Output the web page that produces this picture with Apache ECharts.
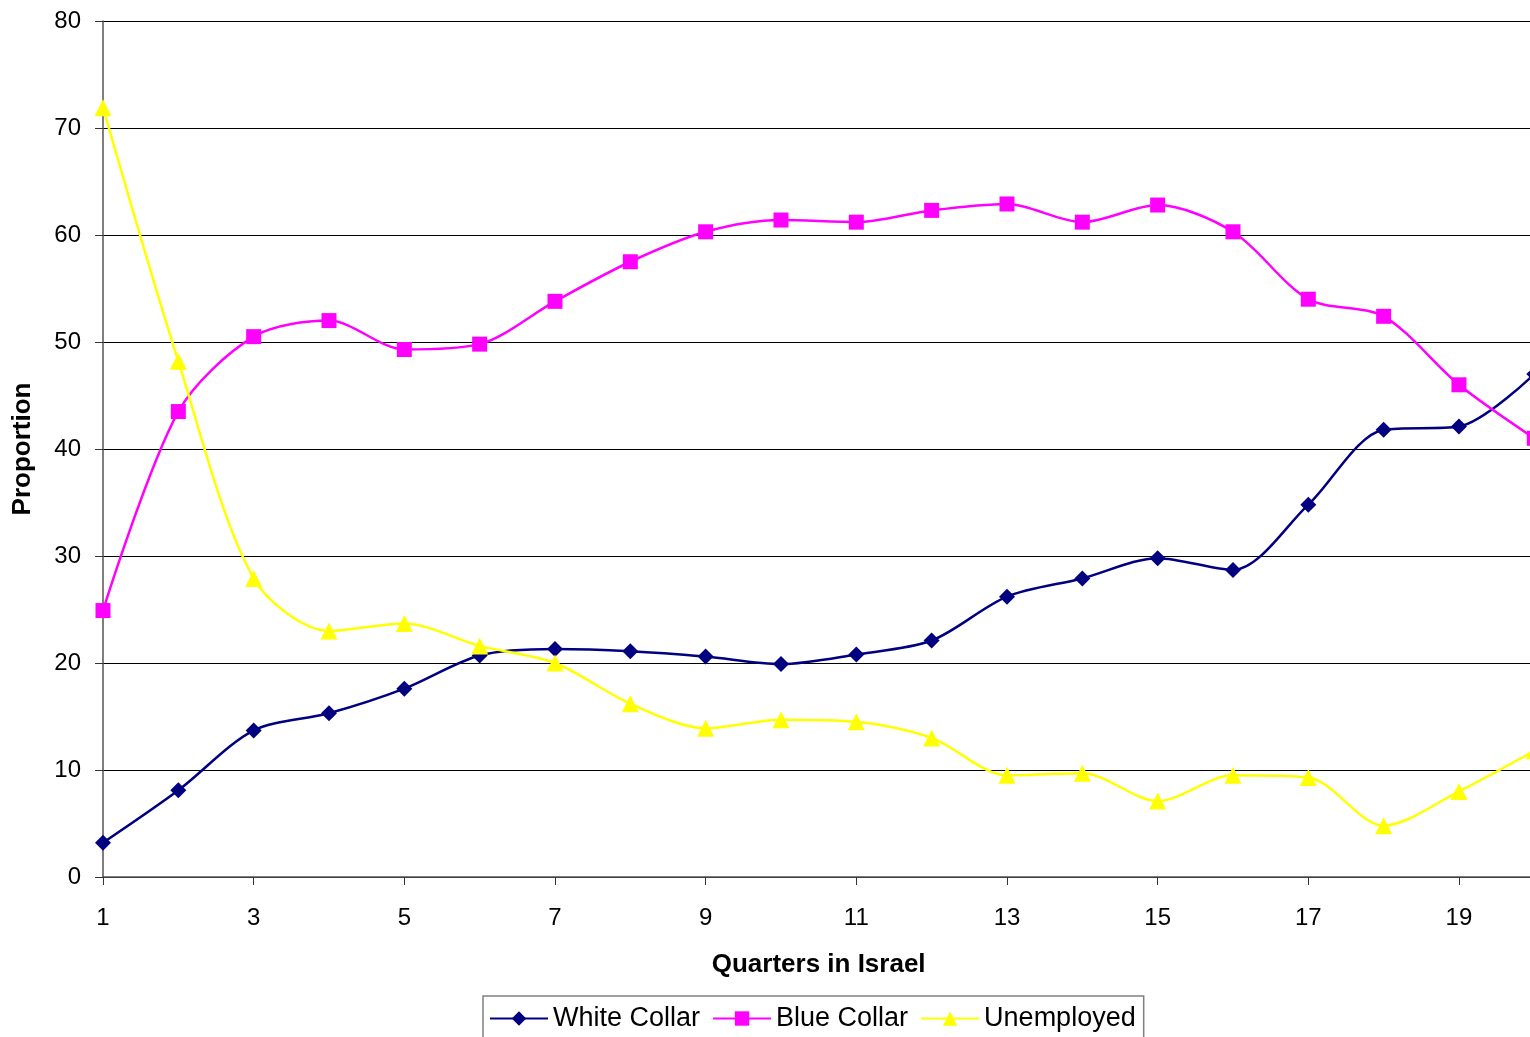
<!DOCTYPE html>
<html>
<head>
<meta charset="utf-8">
<style>
  html, body { margin: 0; padding: 0; background: #fff; }
  #chart { width: 1530px; height: 1037px; }
</style>
<script src="https://cdn.jsdelivr.net/npm/echarts@6/dist/echarts.min.js"></script>
</head>
<body>
<div id="chart"></div>
<script>
// Quarters since arrival
const quarters = ['1','2','3','4','5','6','7','8','9','10','11','12','13','14','15','16','17','18','19','20'];

// Occupational status shares (%)
const whiteCollar = [3.2, 8.1, 13.7, 15.3, 17.6, 20.7, 21.3, 21.1, 20.6, 19.9, 20.8, 22.1, 26.2, 27.9, 29.8, 28.7, 34.8, 41.8, 42.1, 47.0];
const blueCollar  = [24.9, 43.5, 50.5, 52.0, 49.3, 49.8, 53.8, 57.5, 60.3, 61.4, 61.2, 62.3, 62.9, 61.2, 62.8, 60.3, 54.0, 52.4, 46.0, 41.0];
const unemployed  = [71.9, 48.2, 27.9, 23.0, 23.7, 21.6, 20.0, 16.2, 13.9, 14.7, 14.5, 13.0, 9.5, 9.7, 7.1, 9.5, 9.3, 4.8, 8.0, 11.8];

const seriesNames = ['White Collar', 'Blue Collar', 'Unemployed'];

const FONT = '"Liberation Sans", Arial, sans-serif';

const chart = echarts.init(document.getElementById('chart'), null, { renderer: 'canvas' });

function lineSeries(name, data, color, symbol, size) {
  return {
    name: name,
    type: 'line',
    data: data,
    smooth: 0.3,
    symbol: symbol,
    symbolSize: size,
    showAllSymbol: true,
    lineStyle: { color: color, width: 2.5 },
    itemStyle: { color: color },
    emphasis: { disabled: true },
    animation: false
  };
}

chart.setOption({
  animation: false,
  backgroundColor: '#ffffff',
  grid: {
    left: 103, top: 21, width: 1431.3, height: 856,
    containLabel: false,
    outerBoundsMode: 'none'
  },
  legend: {
    left: 483,
    top: 996,
    data: seriesNames,
    itemWidth: 58,
    itemHeight: 18,
    itemGap: 12,
    padding: [9, 8, 12, 6],
    borderColor: '#808080',
    borderWidth: 1.5,
    textStyle: { fontFamily: FONT, fontSize: 27, color: '#000' }
  },
  xAxis: {
    type: 'category',
    data: quarters,
    boundaryGap: false,
    name: 'Quarters in Israel',
    nameLocation: 'middle',
    nameGap: 75,
    nameTextStyle: { fontFamily: FONT, fontSize: 26, fontWeight: 'bold', color: '#000' },
    axisLine: { lineStyle: { color: '#555', width: 1.5 } },
    axisTick: { show: true, interval: 1, length: 8, inside: false, lineStyle: { color: '#333' } },
    axisLabel: { interval: 1, margin: 29, fontFamily: FONT, fontSize: 24, color: '#000' },
    splitLine: { show: false }
  },
  yAxis: {
    type: 'value',
    min: 0,
    max: 80,
    interval: 10,
    name: 'Proportion',
    nameLocation: 'middle',
    nameGap: 67,
    nameRotate: 90,
    nameTextStyle: { fontFamily: FONT, fontSize: 26, fontWeight: 'bold', color: '#000' },
    axisLine: { show: true, lineStyle: { color: '#555', width: 1.5 } },
    axisTick: { show: true, length: 8, lineStyle: { color: '#333' } },
    axisLabel: { margin: 22, fontFamily: FONT, fontSize: 24, color: '#000' },
    splitLine: { show: true, lineStyle: { color: '#000', width: 1 } }
  },
  series: [
    lineSeries(seriesNames[0], whiteCollar, '#000080', 'diamond', 16),
    lineSeries(seriesNames[1], blueCollar, '#ff00ff', 'rect', 15),
    lineSeries(seriesNames[2], unemployed, '#ffff00', 'triangle', 17)
  ]
});
</script>
</body>
</html>
